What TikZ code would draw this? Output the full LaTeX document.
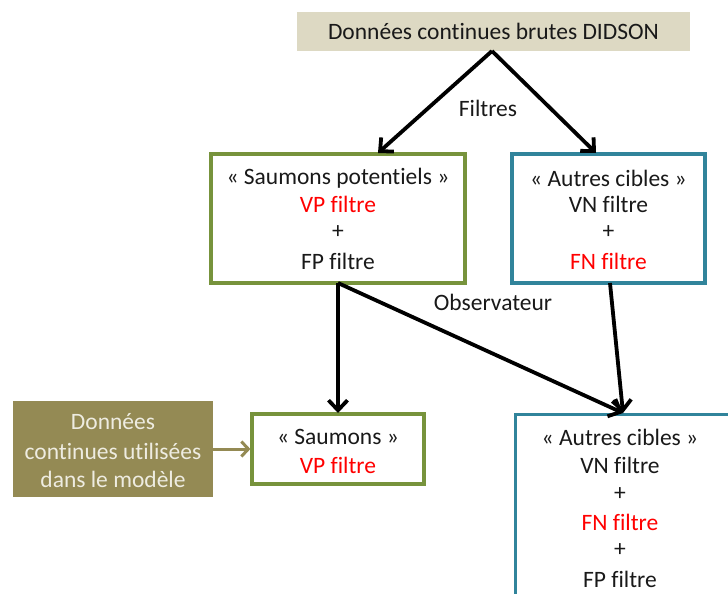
\documentclass[tikz,border=0pt]{standalone}
\usepackage{fontspec}
\setmainfont{Carlito}[Ligatures=NoCommon]
\usetikzlibrary{arrows.meta}
\definecolor{beige}{HTML}{DDD9C3}
\definecolor{olivefill}{HTML}{948A54}
\definecolor{olivetext}{HTML}{EEECE1}
\definecolor{greenb}{HTML}{77933C}
\definecolor{blueb}{HTML}{31849B}
\definecolor{redt}{HTML}{FF0000}
\tikzset{
  txt/.style={font=\fontsize{23.5}{28}\selectfont, align=center, text=black!90},
  gbox/.style={draw=greenb, line width=3.2pt, inner sep=0pt},
  bbox/.style={draw=blueb, line width=3.2pt, inner sep=0pt},
  arr/.style={line width=3.8pt, -{Straight Barb[length=10pt,width=19pt,line width=3.8pt]}},
  oarr/.style={draw=olivefill, line width=3pt, -{Straight Barb[length=7pt,width=15pt,line width=3pt]}},
}
\newcommand{\rt}[1]{\textcolor{redt}{#1}}
\begin{document}
\begin{tikzpicture}[x=1pt,y=-1pt]
\useasboundingbox (0,0) rectangle (728,594);
\begin{scope}
\clip (0,0) rectangle (728,594);
% top
\node[fill=beige, minimum width=393pt, minimum height=39pt, inner sep=0pt, txt] (top) at (493.5,31.5) {Données continues brutes DIDSON};
% saumons potentiels
\node[gbox, minimum width=254pt, minimum height=129pt] (sp) at (338,218.5) {};
\node[txt] (sp1) at (338,178) {« Saumons potentiels »};
\node[txt] (sp2) at (338,204) {\rt{VP filtre}};
\node[txt] (sp3) at (338,232) {+};
\node[txt] (sp4) at (338,261) {FP filtre};
% autres cibles top
\node[bbox, minimum width=193pt, minimum height=129pt] (ac) at (608.5,218.5) {};
\node[txt] (ac1) at (608.5,178) {« Autres cibles »};
\node[txt] (ac2) at (608.5,204) {VN filtre};
\node[txt] (ac3) at (608.5,232) {+};
\node[txt] (ac4) at (608.5,261) {\rt{FN filtre}};
% saumons
\node[gbox, minimum width=172pt, minimum height=70pt] (sa) at (338,449) {};
\node[txt] (sa1) at (338,437) {« Saumons »};
\node[txt] (sa2) at (338,465) {\rt{VP filtre}};
% left olive box
\node[fill=olivefill, minimum width=200pt, minimum height=96pt, inner sep=0pt] (ol) at (113,449) {};
\node[txt, text=olivetext] (ol1) at (113,422) {Données};
\node[txt, text=olivetext] (ol2) at (113,451) {continues utilisées};
\node[txt, text=olivetext] (ol3) at (113,479) {dans le modèle};
% autres cibles bottom
\node[bbox, minimum width=214pt, minimum height=200pt, anchor=north west] (ab) at (514,413) {};
\node[txt] (ab1) at (620,437) {« Autres cibles »};
\node[txt] (ab2) at (620,465) {VN filtre};
\node[txt] (ab3) at (620,494) {+};
\node[txt] (ab4) at (620,522) {\rt{FN filtre}};
\node[txt] (ab5) at (620,550) {+};
\node[txt] (ab6) at (620,579) {FP filtre};
% labels
\node[txt] (filt) at (488,108) {Filtres};
\node[txt] (obs) at (493,302) {Observateur};
% coordinates
\coordinate (t0) at (492,51);
\coordinate (sptop) at (378,153);
\coordinate (actop) at (596,153);
\coordinate (spb) at (338,283);
\coordinate (sat) at (338,413);
\coordinate (abt) at (623,413);
\coordinate (acb) at (610,283);
\draw[arr] (t0) -- (sptop);
\draw[arr] (t0) -- (actop);
\draw[arr] (spb) -- (sat);
\draw[arr] (spb) -- (abt);
\draw[arr] (acb) -- (abt);
\draw[oarr] (ol.east) -- (sa.west);
\end{scope}
\end{tikzpicture}
\end{document}
